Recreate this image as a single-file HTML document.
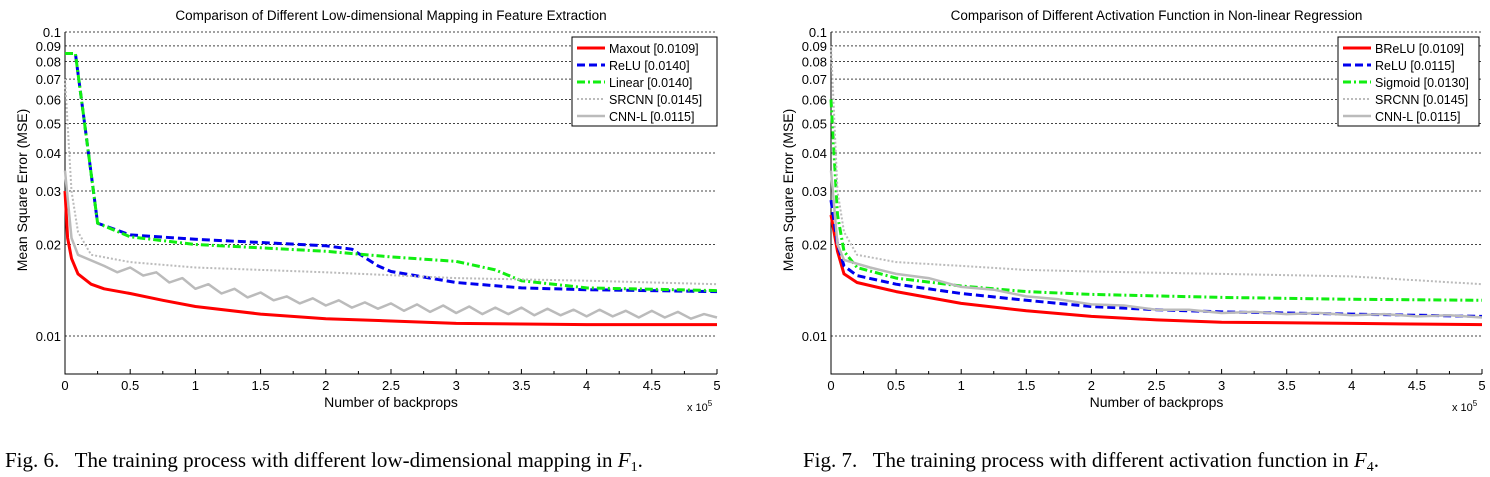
<!DOCTYPE html>
<html><head><meta charset="utf-8"><style>
body{margin:0;background:#fff;width:1490px;height:477px;overflow:hidden}
svg{position:absolute;left:0;top:0}
text{font-family:"Liberation Sans",sans-serif;fill:#000}
.cap{font-family:"Liberation Serif",serif;font-size:21px}
</style></head><body>
<svg id="svg" width="1490" height="477"></svg>
<script>
const yTicks=[0.1,0.09,0.08,0.07,0.06,0.05,0.04,0.03,0.02,0.01];
const yTickLabels=["0.1","0.09","0.08","0.07","0.06","0.05","0.04","0.03","0.02","0.01"];
const xTicks=[0,0.5,1,1.5,2,2.5,3,3.5,4,4.5,5];
const xTickLabels=["0","0.5","1","1.5","2","2.5","3","3.5","4","4.5","5"];
// Plot 1 series
const p1MaxoutX=[0,0.02,0.05,0.1,0.2,0.3,0.5,0.75,1,1.5,2,2.5,3,4,5];
const p1MaxoutY=[0.030,0.021,0.018,0.016,0.0148,0.0143,0.0138,0.0131,0.0125,0.0118,0.0114,0.0112,0.0110,0.0109,0.0109];
const p1ReluX=[0,0.08,0.15,0.25,0.5,1,1.5,2,2.2,2.4,2.5,3,3.5,4,5];
const p1ReluY=[0.085,0.085,0.05,0.0235,0.0215,0.0208,0.0203,0.0198,0.0193,0.017,0.0163,0.0150,0.0144,0.0142,0.0140];
const p1LinX=[0,0.08,0.15,0.25,0.5,1,1.5,2,2.5,3,3.3,3.5,4,5];
const p1LinY=[0.085,0.085,0.05,0.0235,0.0212,0.0200,0.0195,0.0190,0.0182,0.0176,0.0165,0.0152,0.0144,0.0141];
const p1SrX=[0,0.05,0.1,0.2,0.5,1,2,3,4,5];
const p1SrY=[0.07,0.03,0.022,0.0185,0.0175,0.0168,0.0162,0.0155,0.0152,0.0148];
const p1CnnX=[0,0.05,0.1,0.3,0.4,0.5,0.6,0.7,0.8,0.9,1.0,1.1,1.2,1.3,1.4,1.5,1.6,1.7,1.8,1.9,2.0,2.1,2.2,2.3,2.4,2.5,2.6,2.7,2.8,2.9,3.0,3.1,3.2,3.3,3.4,3.5,3.6,3.7,3.8,3.9,4.0,4.1,4.2,4.3,4.4,4.5,4.6,4.7,4.8,4.9,5.0];
const p1CnnY=[0.035,0.021,0.0185,0.017,0.0162,0.0168,0.0158,0.0162,0.0150,0.0155,0.0143,0.0148,0.0138,0.0143,0.0134,0.0139,0.0131,0.0135,0.0128,0.0133,0.0126,0.0131,0.0124,0.0129,0.0123,0.0128,0.0121,0.0127,0.0120,0.0126,0.0119,0.0125,0.0118,0.0124,0.0118,0.0124,0.0117,0.0123,0.0117,0.0122,0.0116,0.0122,0.0116,0.0121,0.0115,0.0121,0.0115,0.0120,0.0114,0.0118,0.0115];
// Plot 2 series
const p2BreluX=[0,0.05,0.1,0.2,0.5,1,1.5,2,2.5,3,4,5];
const p2BreluY=[0.025,0.019,0.016,0.015,0.014,0.0128,0.0121,0.0116,0.0113,0.0111,0.011,0.0109];
const p2ReluX=[0,0.05,0.1,0.2,0.5,1,1.5,2,2.5,3,4,5];
const p2ReluY=[0.028,0.020,0.017,0.0158,0.0148,0.0138,0.0131,0.0125,0.0122,0.012,0.0118,0.0116];
const p2SigX=[0,0.05,0.1,0.2,0.5,1,1.5,2,3,4,5];
const p2SigY=[0.06,0.025,0.019,0.0168,0.0155,0.0146,0.014,0.0137,0.0134,0.0132,0.0131];
const p2SrX=[0,0.05,0.1,0.2,0.5,1,1.5,2,3,4,5];
const p2SrY=[0.09,0.03,0.022,0.0185,0.0175,0.0170,0.0165,0.0163,0.016,0.0157,0.0148];
const p2CnnX=[0,0.05,0.1,0.3,0.5,0.75,1,1.25,1.5,1.75,2,2.25,2.5,2.75,3,3.25,3.5,3.75,4,4.25,4.5,4.75,5];
const p2CnnY=[0.035,0.02,0.0178,0.0168,0.016,0.0155,0.0145,0.0142,0.0135,0.0132,0.0127,0.0126,0.0122,0.0122,0.0119,0.0120,0.0118,0.0119,0.0117,0.0118,0.0116,0.0117,0.0115];

const svg=document.getElementById('svg');
const NS='http://www.w3.org/2000/svg';
function mk(tag,attrs,parent){const e=document.createElementNS(NS,tag);for(const k in attrs)e.setAttribute(k,attrs[k]);(parent||svg).appendChild(e);return e;}

function plot(cfg){
  const L=cfg.left,R=cfg.right,T=32,B=374;
  const X=v=>L+(v/5)*(R-L);
  const Y=v=>336-304*Math.log10(v/0.01);
  const g=mk('g',{});
  
  
  const t=mk('text',{x:(L+R)/2,y:20,'font-size':13.5,'text-anchor':'middle'},g);t.textContent=cfg.title;
  
  yTicks.forEach((v,i)=>{
    const gl=mk('line',{x1:L,x2:R,y1:Y(v),y2:Y(v),stroke:'#444','stroke-dasharray':'2,2','stroke-width':1},g);
    
    const tl=mk('text',{x:L-4,y:Y(v)+5,'font-size':13,'text-anchor':'end'},g);tl.textContent=yTickLabels[i];
    
  });
  xTicks.forEach((v,i)=>{
    mk('line',{x1:X(v),x2:X(v),y1:B,y2:B-5,stroke:'#000'},g);
    if(i<xTicks.length-1) mk('line',{x1:X(v+0.25),x2:X(v+0.25),y1:B,y2:B-3,stroke:'#000'},g);
    const tl=mk('text',{x:X(v),y:B+16,'font-size':13,'text-anchor':'middle'},g);tl.textContent=xTickLabels[i];
    
  });
  const ax=mk('path',{d:`M${L},${T}V${B}H${R}`,fill:'none',stroke:'#000','stroke-width':1},g);
  
  const xl=mk('text',{x:(L+R)/2,y:407,'font-size':14,'text-anchor':'middle'},g);xl.textContent='Number of backprops';
  
  const ex=mk('text',{x:R-30,y:411,'font-size':11},g);ex.innerHTML='x 10<tspan dy="-5" font-size="8">5</tspan>';
  
  const yl=mk('text',{x:0,y:0,'font-size':14,'text-anchor':'middle',transform:`translate(${L-38},190) rotate(-90)`},g);yl.textContent='Mean Square Error (MSE)';
  
  cfg.series.forEach(s=>{
    const d=s.x.map((v,i)=>(i?'L':'M')+X(v).toFixed(1)+','+Y(s.y[i]).toFixed(1)).join('');
    const p=mk('path',{d,fill:'none',stroke:s.color,'stroke-width':s.w,'stroke-dasharray':s.dash||'none','stroke-linejoin':'round'},g);
    
  });
  const lx=cfg.legX,lw=cfg.legW;
  const lb=mk('rect',{x:lx,y:37,width:lw,height:89,fill:'#fff',stroke:'#000','stroke-width':1},g);
  
  cfg.series.forEach((s,i)=>{
    const yy=48+i*17;
    mk('line',{x1:lx+5,x2:lx+33,y1:yy,y2:yy,stroke:s.color,'stroke-width':s.w,'stroke-dasharray':s.dash||'none'},g);
    const lt=mk('text',{x:lx+37,y:yy+5,'font-size':12.5},g);lt.textContent=s.label;
    
  });
}
plot({name:'chart-fig6',left:65,right:717,legX:572,legW:145,title:'Comparison of Different Low-dimensional Mapping in Feature Extraction',
 series:[
  {key:'srcnn',x:p1SrX,y:p1SrY,color:'#bbb',w:2,dash:'2,2',label:'SRCNN [0.0145]'},
  {key:'cnnl',x:p1CnnX,y:p1CnnY,color:'#bbb',w:2.5,label:'CNN-L [0.0115]'},
  {key:'linear',x:p1LinX,y:p1LinY,color:'#1e1',w:3,dash:'8,3,2,3',label:'Linear [0.0140]'},
  {key:'relu',x:p1ReluX,y:p1ReluY,color:'#00e',w:3,dash:'8,4',label:'ReLU [0.0140]'},
  {key:'maxout',x:p1MaxoutX,y:p1MaxoutY,color:'#f00',w:3,label:'Maxout [0.0109]'}
 ].sort((a,b)=>['maxout','relu','linear','srcnn','cnnl'].indexOf(a.key)-['maxout','relu','linear','srcnn','cnnl'].indexOf(b.key))});
plot({name:'chart-fig7',left:831,right:1482,legX:1338,legW:141,title:'Comparison of Different Activation Function in Non-linear Regression',
 series:[
  {key:'brelu',x:p2BreluX,y:p2BreluY,color:'#f00',w:3,label:'BReLU [0.0109]'},
  {key:'relu',x:p2ReluX,y:p2ReluY,color:'#00e',w:3,dash:'8,4',label:'ReLU [0.0115]'},
  {key:'sigmoid',x:p2SigX,y:p2SigY,color:'#1e1',w:3,dash:'8,3,2,3',label:'Sigmoid [0.0130]'},
  {key:'srcnn',x:p2SrX,y:p2SrY,color:'#bbb',w:2,dash:'2,2',label:'SRCNN [0.0145]'},
  {key:'cnnl',x:p2CnnX,y:p2CnnY,color:'#bbb',w:2.5,label:'CNN-L [0.0115]'}
 ]});
const c1=mk('text',{x:5,y:467,class:'cap'});c1.innerHTML='Fig. 6.&#160;&#160; The training process with different low-dimensional mapping in <tspan font-style="italic">F</tspan><tspan font-size="14" dy="4">1</tspan><tspan dy="-4">.</tspan>';

const c2=mk('text',{x:803,y:467,class:'cap'});c2.innerHTML='Fig. 7.&#160;&#160; The training process with different activation function in <tspan font-style="italic">F</tspan><tspan font-size="14" dy="4">4</tspan><tspan dy="-4">.</tspan>';

</script>
</body></html>
